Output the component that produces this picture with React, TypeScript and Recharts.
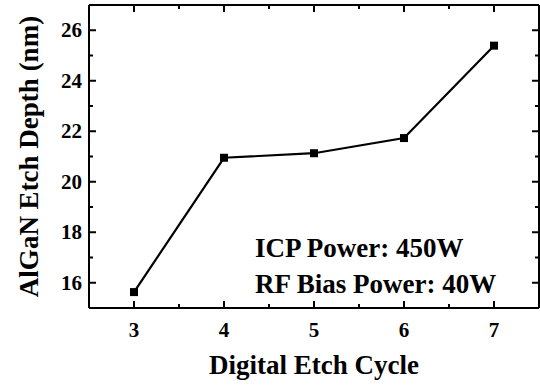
import React from "react";
import {
  LineChart,
  Line,
  XAxis,
  YAxis,
  Customized,
} from "recharts";

// values
const cycles = [3, 4, 5, 6, 7];
const etchDepth = [15.63, 20.95, 21.13, 21.73, 25.39];

const xMajorTicks = [3, 4, 5, 6, 7];
const xMinorTicks = [3.5, 4.5, 5.5, 6.5];
const yMajorTicks = [16, 18, 20, 22, 24, 26];
const yMinorTicks = [17, 19, 21, 23, 25];

const annotationLines = ["ICP Power: 450W", "RF Bias Power: 40W"];

const data = cycles.map((c, i) => ({ cycle: c, depth: etchDepth[i] }));
const xTicks = [...xMajorTicks, ...xMinorTicks].sort((a, b) => a - b);
const yTicks = [...yMajorTicks, ...yMinorTicks].sort((a, b) => a - b);

const FONT = "Liberation Serif";
const textStyle = { fontFamily: FONT, fontWeight: 700 };
const MAJOR = 7;
const MINOR = 4;

// edges of the plot frame (top / right), matching the chart margins below
const PLOT_TOP = 5;
const PLOT_RIGHT = 539;

const isMajor = (v: number, list: number[]) => list.includes(v);

// ticks point into the plot on all four sides; labels only on major ticks
const BottomTick = (props: any) => {
  const { x, y, payload } = props;
  const len = isMajor(payload.value, xMajorTicks) ? MAJOR : MINOR;
  return (
    <g>
      <line x1={x} x2={x} y1={y} y2={y - len} stroke="#000" strokeWidth={2} />
      <line x1={x} x2={x} y1={PLOT_TOP} y2={PLOT_TOP + len} stroke="#000" strokeWidth={2} />
      {len === MAJOR && (
        <text x={x} y={y + 28.5} textAnchor="middle" style={textStyle} fontSize={21} fill="#000">
          {payload.value}
        </text>
      )}
    </g>
  );
};

const LeftTick = (props: any) => {
  const { x, y, payload } = props;
  const len = isMajor(payload.value, yMajorTicks) ? MAJOR : MINOR;
  return (
    <g>
      <line x1={x} x2={x + len} y1={y} y2={y} stroke="#000" strokeWidth={2} />
      <line x1={PLOT_RIGHT} x2={PLOT_RIGHT - len} y1={y} y2={y} stroke="#000" strokeWidth={2} />
      {len === MAJOR && (
        <text x={x - 7} y={y + 7} textAnchor="end" style={textStyle} fontSize={21} fill="#000">
          {payload.value}
        </text>
      )}
    </g>
  );
};

const SquareDot = (props: any) => {
  const { cx, cy } = props;
  if (cx == null || cy == null) return null;
  return <rect x={cx - 4} y={cy - 4} width={8} height={8} fill="#000" />;
};

const Annotation = () => (
  <g>
    {annotationLines.map((t, i) => (
      <text key={t} x={255} y={256.5 + i * 36.5} style={textStyle} fontSize={27} fill="#000">
        {t}
      </text>
    ))}
  </g>
);

const App = () => {
  const axisLine = { stroke: "#000", strokeWidth: 2 };
  const titleLabel = { ...textStyle, fontSize: 27, fill: "#000" };
  return (
    <div style={{ position: "absolute", left: 0, top: 0, background: "#fff", fontFamily: FONT }}>
      <LineChart width={540} height={385} data={data} margin={{ top: 4, right: 0, bottom: 0, left: 0 }}>
        <XAxis
          xAxisId="b"
          dataKey="cycle"
          type="number"
          domain={[2.5, 7.5]}
          ticks={xTicks}
          interval={0}
          height={77}
          tickSize={0}
          tickMargin={0}
          tickLine={false}
          axisLine={axisLine}
          tick={<BottomTick />}
          label={{ value: "Digital Etch Cycle", position: "insideBottom", offset: 11, ...titleLabel }}
        />
        <XAxis xAxisId="t" orientation="top" height={1} tick={false} tickLine={false} axisLine={axisLine} />
        <YAxis
          yAxisId="l"
          type="number"
          domain={[15, 27]}
          ticks={yTicks}
          interval={0}
          width={89}
          tickSize={0}
          tickMargin={0}
          tickLine={false}
          axisLine={axisLine}
          tick={<LeftTick />}
          label={{ value: "AlGaN Etch Depth (nm)", angle: -90, position: "center", dx: -16, ...titleLabel }}
        />
        <YAxis yAxisId="r" orientation="right" width={1} tick={false} tickLine={false} axisLine={axisLine} />
        <Line
          xAxisId="b"
          yAxisId="l"
          type="linear"
          dataKey="depth"
          stroke="#000"
          strokeWidth={2.2}
          dot={<SquareDot />}
          activeDot={false}
          isAnimationActive={false}
        />
        <Customized component={Annotation} />
      </LineChart>
    </div>
  );
};

export default App;
